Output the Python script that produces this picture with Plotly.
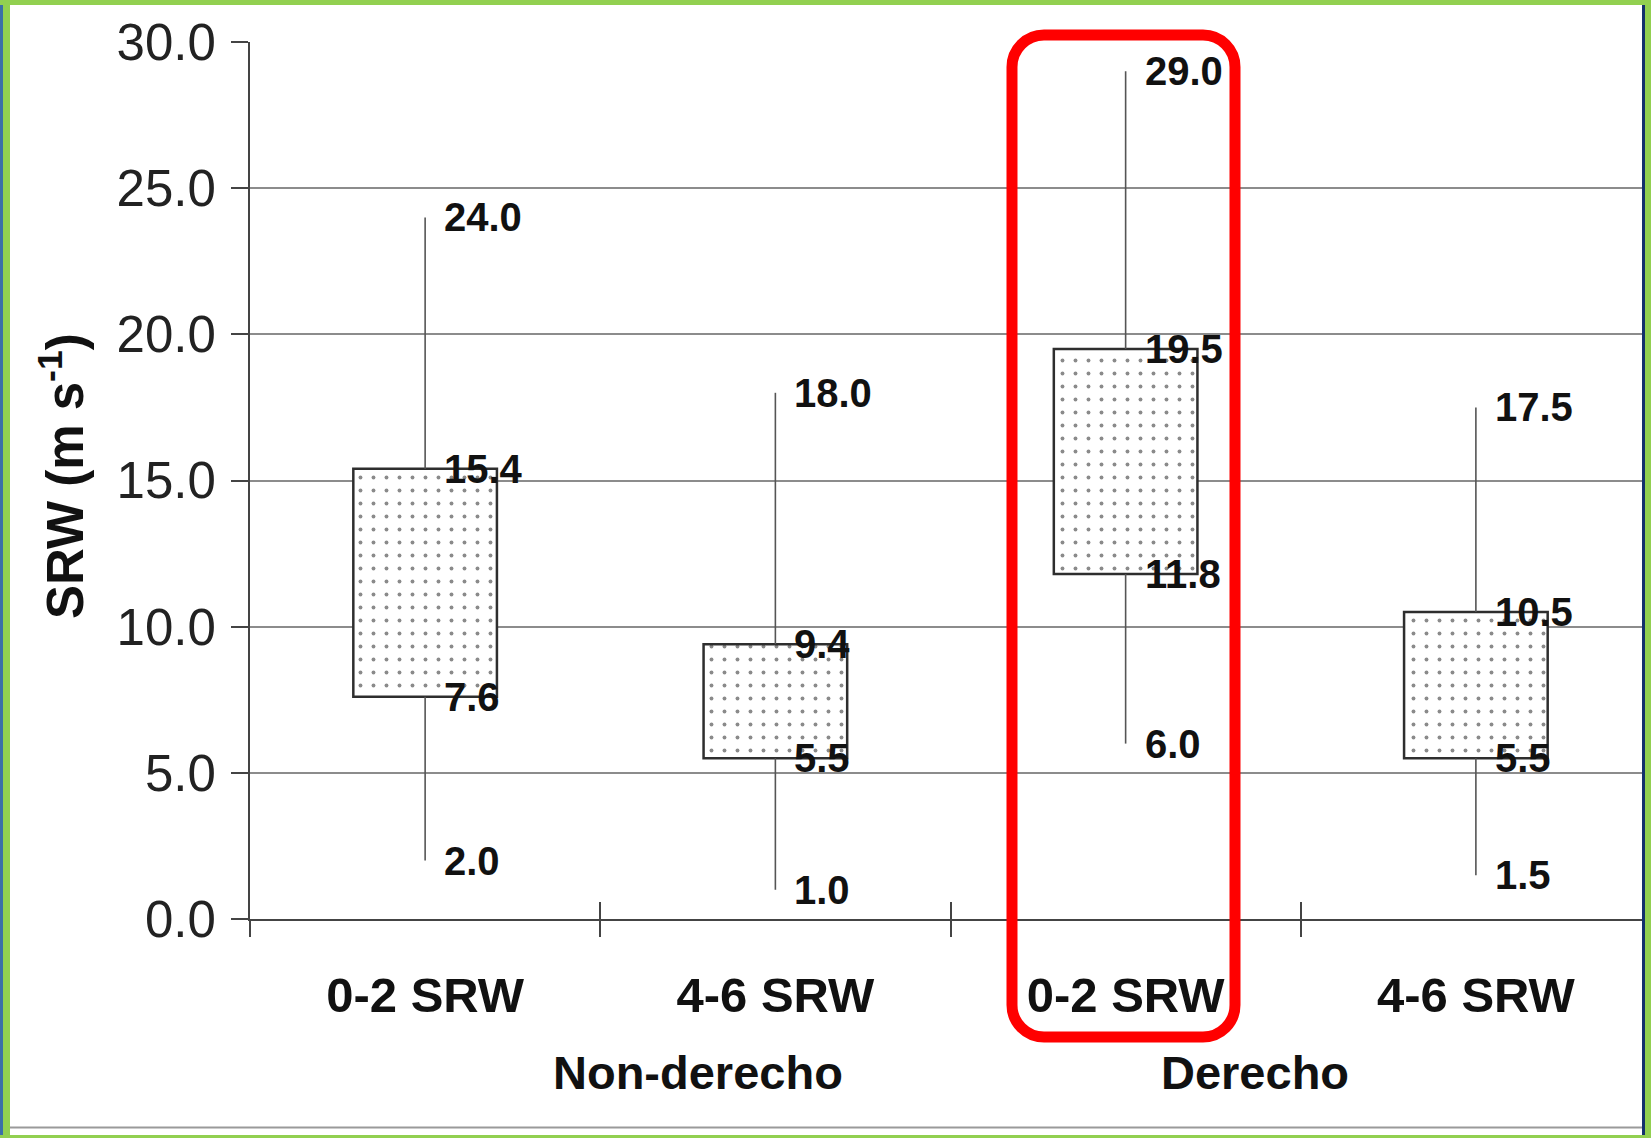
import plotly.graph_objects as go

# ---------------- data ----------------
groups = ["Non-derecho", "Non-derecho", "Derecho", "Derecho"]
categories = ["0-2 SRW", "4-6 SRW", "0-2 SRW", "4-6 SRW"]
mins = [2.0, 1.0, 6.0, 1.5]
q1s = [7.6, 5.5, 11.8, 5.5]
q3s = [15.4, 9.4, 19.5, 10.5]
maxs = [24.0, 18.0, 29.0, 17.5]
y_ticks = [0, 5, 10, 15, 20, 25, 30]
group_names = ["Non-derecho", "Derecho"]
y_title = "SRW (m s<sup>-1</sup>)"

# ---------------- layout constants ----------------
W, H = 1651, 1138
ML, MR, MT, MB = 250, 0, 42, 219
PW, PH = W - ML - MR, H - MT - MB
FONT = "Liberation Sans, Arial, sans-serif"


def X(px):
    return (px - ML) / PW


def Y(py):
    return (H - MB - py) / PH


idx = list(range(len(categories)))
boundaries = [i - 0.5 for i in idx] + [idx[-1] + 0.5]
xr = [boundaries[0], boundaries[-1]]

fig = go.Figure()

# boxes (q1..q3) with dotted pattern
fig.add_trace(go.Bar(
    x=idx,
    y=[b - a for a, b in zip(q1s, q3s)],
    base=q1s,
    width=0.41,
    marker=dict(
        color="white",
        line=dict(color="#2e2e2e", width=2.5),
        pattern=dict(shape=".", fgcolor="#8a8a8a", bgcolor="white",
                     size=13, solidity=0.07, fillmode="replace"),
    ),
    showlegend=False,
    hoverinfo="skip",
))

# whiskers (min..q1 and q3..max)
wx, wy = [], []
for i, lo, a, b, hi in zip(idx, mins, q1s, q3s, maxs):
    wx += [i, i, None, i, i, None]
    wy += [lo, a, None, b, hi, None]
fig.add_trace(go.Scatter(
    x=wx, y=wy, mode="lines",
    line=dict(color="#555555", width=1.6),
    showlegend=False, hoverinfo="skip",
))

# invisible carriers so the boundary-tick axes get drawn
for ax in ("x2", "x3"):
    fig.add_trace(go.Scatter(
        x=xr, y=[0, 0], xaxis=ax, yaxis="y", mode="markers",
        marker=dict(opacity=0, size=1), showlegend=False, hoverinfo="skip",
    ))

annotations = []
# value labels
for i, lo, a, b, hi in zip(idx, mins, q1s, q3s, maxs):
    for v in (hi, b, a, lo):
        annotations.append(dict(
            x=i, y=v, xref="x", yref="y", text=f"{v:.1f}",
            showarrow=False, xanchor="left", yanchor="middle", xshift=17,
            font=dict(family=FONT, size=40, color="#111111", weight="bold"),
        ))

# group labels
group_x = [0.78, 2.37]
for name, gx in zip(group_names, group_x):
    annotations.append(dict(
        x=gx, y=Y(1072), xref="x", yref="paper", text=name,
        showarrow=False, xanchor="center", yanchor="middle",
        font=dict(family=FONT, size=47, color="#111111", weight="bold"),
    ))

# y title
annotations.append(dict(
    x=X(62), y=Y(476), xref="paper", yref="paper", text=y_title,
    showarrow=False, xanchor="center", yanchor="middle", textangle=-90,
    font=dict(family=FONT, size=51, color="#111111", weight="bold"),
))

shapes = []
# frame / border decoration
shapes.append(dict(type="rect", xref="paper", yref="paper", layer="above",
                   x0=X(0), x1=X(3), y0=Y(0), y1=Y(H), fillcolor="#3b6fa8", line=dict(width=0)))
shapes.append(dict(type="rect", xref="paper", yref="paper", layer="above",
                   x0=X(3), x1=X(10), y0=Y(0), y1=Y(H), fillcolor="#92d050", line=dict(width=0)))
shapes.append(dict(type="rect", xref="paper", yref="paper", layer="above",
                   x0=X(1642), x1=X(1645), y0=Y(5), y1=Y(1135), fillcolor="#13306b", line=dict(width=0)))
shapes.append(dict(type="rect", xref="paper", yref="paper", layer="above",
                   x0=X(1645), x1=X(W), y0=Y(0), y1=Y(H), fillcolor="#92d050", line=dict(width=0)))
shapes.append(dict(type="rect", xref="paper", yref="paper", layer="above",
                   x0=X(0), x1=X(W), y0=Y(0), y1=Y(5), fillcolor="#92d050", line=dict(width=0)))
shapes.append(dict(type="rect", xref="paper", yref="paper", layer="above",
                   x0=X(0), x1=X(W), y0=Y(1135), y1=Y(H), fillcolor="#92d050", line=dict(width=0)))
shapes.append(dict(type="line", xref="paper", yref="paper", layer="above",
                   x0=X(10), x1=X(1642), y0=Y(1127.5), y1=Y(1127.5), line=dict(color="#9a9a9a", width=2)))

# red rounded highlight rectangle
x0, x1, y0, y1, r = 1012, 1235, 35, 1037, 32
k = 0.5523 * r


def P(px, py):
    return f"{X(px):.6f},{Y(py):.6f}"


path = (
    f"M {P(x0 + r, y0)} L {P(x1 - r, y0)} "
    f"C {P(x1 - r + k, y0)} {P(x1, y0 + r - k)} {P(x1, y0 + r)} "
    f"L {P(x1, y1 - r)} "
    f"C {P(x1, y1 - r + k)} {P(x1 - r + k, y1)} {P(x1 - r, y1)} "
    f"L {P(x0 + r, y1)} "
    f"C {P(x0 + r - k, y1)} {P(x0, y1 - r + k)} {P(x0, y1 - r)} "
    f"L {P(x0, y0 + r)} "
    f"C {P(x0, y0 + r - k)} {P(x0 + r - k, y0)} {P(x0 + r, y0)} Z"
)
shapes.append(dict(type="path", xref="paper", yref="paper", layer="above",
                   path=path, line=dict(color="#ff0000", width=11)))

tick_common = dict(
    overlaying="x", anchor="y", side="bottom", range=xr,
    tickmode="array", tickvals=boundaries, ticklen=17, tickwidth=2, tickcolor="#444444",
    showticklabels=False, showgrid=False, zeroline=False, showline=False,
)

fig.update_layout(
    width=W, height=H,
    margin=dict(l=ML, r=MR, t=MT, b=MB, pad=0),
    paper_bgcolor="white", plot_bgcolor="white",
    font=dict(family=FONT),
    showlegend=False,
    xaxis=dict(
        range=xr, tickmode="array", tickvals=idx, ticktext=categories, ticks="",
        showline=True, linecolor="#444444", linewidth=2,
        showgrid=False, zeroline=False,
        tickfont=dict(family=FONT, size=49, color="#111111", weight="bold"),
        ticklabelstandoff=32,
    ),
    xaxis2=dict(ticks="outside", **tick_common),
    xaxis3=dict(ticks="inside", **tick_common),
    yaxis=dict(
        range=[0, 30], tickmode="array", tickvals=y_ticks, tickformat=".1f",
        ticks="outside", ticklen=17, tickwidth=2, tickcolor="#444444",
        showline=True, linecolor="#444444", linewidth=2,
        showgrid=True, gridcolor="#8c8c8c", gridwidth=2, zeroline=False,
        tickfont=dict(family=FONT, size=51, color="#222222"),
        ticklabelstandoff=5,
    ),
    annotations=annotations,
    shapes=shapes,
)

fig.write_html("out.html", config={"displayModeBar": False},
               post_script="document.body.style.margin='0';")
